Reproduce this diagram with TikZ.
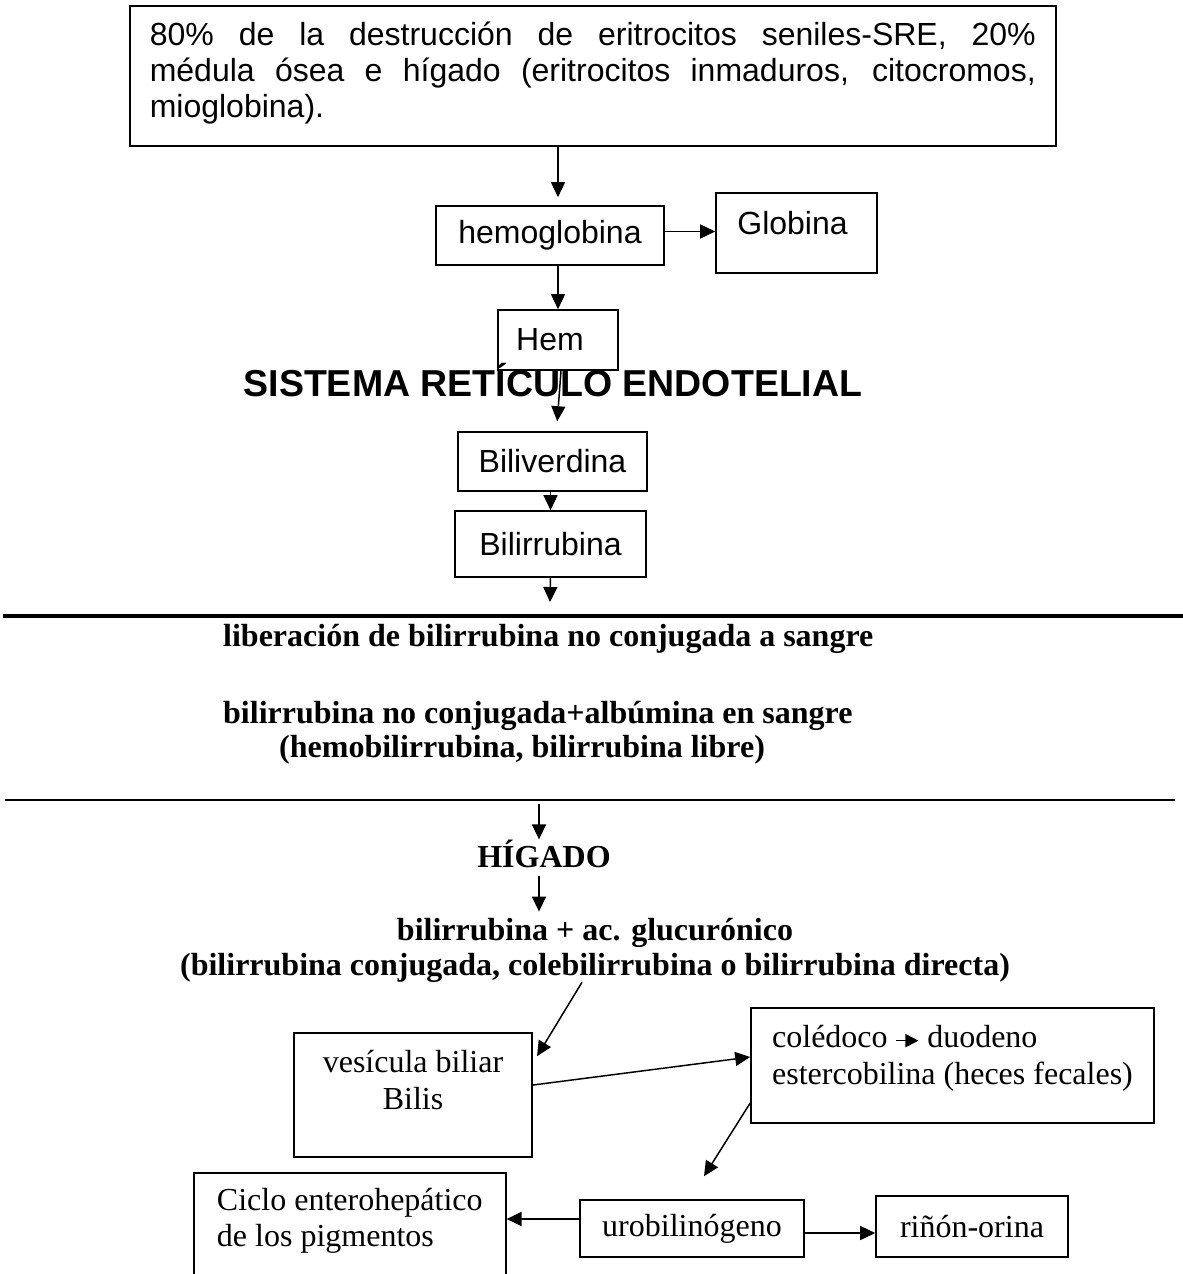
\documentclass[tikz,border=0pt]{standalone}
\usepackage{fontspec}
\setmainfont{Liberation Serif}
\setsansfont{Liberation Sans}
\usetikzlibrary{arrows.meta}

\begin{document}
\begin{tikzpicture}[x=1pt,y=-1pt,
  box/.style={draw, line width=1.6pt, inner sep=0pt},
  sbox/.style={box, font=\sffamily\fontsize{32}{36}\selectfont},
  rbox/.style={box, font=\rmfamily\fontsize{32}{36.5}\selectfont},
  arr/.style={line width=1.5pt, -{Triangle[length=15pt,width=14pt]}},
  btxt/.style={inner sep=0pt, font=\rmfamily\bfseries\fontsize{32}{35}\selectfont},
]
\useasboundingbox (0,0) rectangle (1183,1274);
\clip (0,0) rectangle (1183,1274);

% --- sistema retículo endotelial ---
\node[sbox, anchor=north west, text width=886pt, inner xsep=20pt, inner ysep=0pt,
      minimum height=140pt, align=justify, text depth=84pt,
      execute at begin node={\hyphenpenalty=10000\exhyphenpenalty=10000\tolerance=9999}]
  (src) at (129,5)
  {80\% de la destrucción de eritrocitos seniles-SRE, 20\%\linebreak
   médula ósea e hígado (eritrocitos inmaduros, citocromos,\linebreak
   mioglobina).};

\node[sbox, minimum width=228pt, minimum height=59pt] (hemo) at (550,235.5) {hemoglobina};
\node[sbox, minimum width=161pt, minimum height=80pt, text depth=20pt] (glob) at (796.5,233) {Globina\hspace*{8pt}};
\node[sbox, minimum width=120pt, minimum height=60pt] (hem) at (558,340) {Hem\hspace*{16pt}};
\node[inner sep=0pt, anchor=base, font=\sffamily\bfseries\fontsize{37.5}{42}\selectfont]
  (sre) at (553,396) {SISTEMA RETÍCULO ENDOTELIAL};
\node[sbox, minimum width=189pt, minimum height=59pt] (bv) at (552.5,461.5) {Biliverdina};
\node[sbox, minimum width=191pt, minimum height=66pt] (br) at (550.5,544) {Bilirrubina};

\draw[arr, shorten >=8pt] (src.south -| hem.north) -- (hemo.north -| hem.north);
\draw[arr] ([yshift=4pt]hemo.east) -- ([yshift=4pt]hemo.east -| glob.west);
\draw[arr] (hemo.south -| hem.north) -- (hem.north);
\draw[arr, shorten >=10pt] ([xshift=3pt]hem.south) -- ([xshift=4pt]bv.north);
\draw[arr] (bv.south -| br.north) -- (br.north);
\coordinate (brout) at (550,602);
\draw[arr] (br.south) -- (brout);

% --- sangre ---
\coordinate (sepAl) at (3,616);
\coordinate (sepAr) at (1183,616);
\draw[line width=3.5pt] (sepAl) -- (sepAr);

\node[btxt, anchor=base west] (lib) at (223,646) {liberación de bilirrubina no conjugada a sangre};
\node[btxt, anchor=base west] (alb) at (223,723) {bilirrubina no conjugada+albúmina en sangre};
\node[btxt, anchor=base west] (hemob) at (279,757) {(hemobilirrubina, bilirrubina libre)};

\coordinate (sepBl) at (5,800);
\coordinate (sepBr) at (1175,800);
\draw[line width=1.8pt] (sepBl) -- (sepBr);

% --- hígado ---
\coordinate (hin) at (539,804);
\node[btxt, anchor=base] (hig) at (544,867) {HÍGADO};
\node[btxt, anchor=base] (glu) at (595,940) {bilirrubina + ac. glucurónico};
\node[btxt, anchor=base] (conj) at (595,975) {(bilirrubina conjugada, colebilirrubina o bilirrubina directa)};
\draw[arr] (hin) -- (hin |- hig.north);
\draw[arr, shorten <=8pt, shorten >=6pt] (hig.south -| hin) -- (glu.north -| hin);

\node[rbox, minimum width=238.5pt, minimum height=124pt, align=center, text depth=30pt]
  (ves) at (413,1095) {vesícula biliar\\Bilis};
\node[rbox, minimum width=403pt, minimum height=115pt, align=left, text depth=21.5pt]
  (col) at (952.5,1065.5)
  {colédoco \tikz[baseline=-7pt]\draw[line width=1.6pt,-{Triangle[length=13pt,width=13pt]}] (0pt,0pt) -- (22pt,0pt); duodeno\\
   estercobilina (heces fecales)};
\node[rbox, anchor=north west, minimum width=312pt, minimum height=130pt,
      align=left, text depth=40.5pt]
  (cic) at (193,1172) {Ciclo enterohepático\\de los pigmentos\hspace*{8pt}};
\node[rbox, minimum width=224pt, minimum height=57pt] (uro) at (692,1228.5) {urobilinógeno};
\node[rbox, minimum width=192pt, minimum height=61pt] (rin) at (972,1226.5) {riñón-orina};

\draw[arr] ([xshift=-13pt]conj.south) -- ([xshift=4pt,yshift=-24pt]ves.north east);
\draw[arr] ([yshift=10pt]ves.east) -- ([yshift=8.5pt]col.west);
\draw[arr] ([yshift=-37.5pt]col.west) -- ([xshift=12pt,yshift=23pt]uro.north);
\draw[arr] ([yshift=9.5pt]uro.west) -- ([yshift=9.5pt]uro.west -| cic.east);
\draw[arr] ([yshift=-4.5pt]uro.east) -- ([yshift=-4.5pt]uro.east -| rin.west);
\end{tikzpicture}
\end{document}
